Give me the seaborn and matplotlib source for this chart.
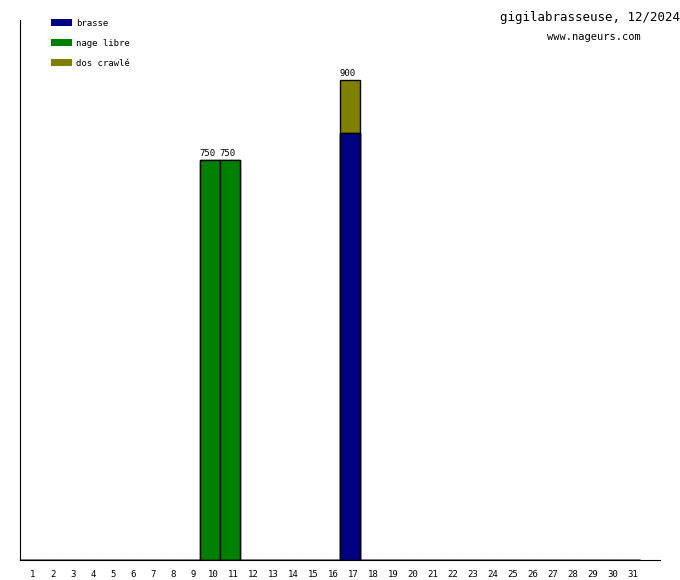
import numpy as np
import pandas as pd
import matplotlib
matplotlib.use("Agg")
import matplotlib.pyplot as plt
import matplotlib.patches as mpatches
import matplotlib.transforms as mtransforms
import seaborn as sns

# data: metres swum per day, by stroke
days = list(range(1, 32))
brasse = [0] * 31
nage_libre = [0] * 31
dos_crawle = [0] * 31
brasse[16] = 800
nage_libre[9] = 750
nage_libre[10] = 750
dos_crawle[16] = 100

strokes = ["brasse", "nage libre", "dos crawlé"]
colors = ["#000080", "#008000", "#808000"]

title = "gigilabrasseuse, 12/2024"
subtitle = "www.nageurs.com"

df = pd.DataFrame({"day": days, "brasse": brasse,
                   "nage libre": nage_libre, "dos crawlé": dos_crawle})
df["total"] = df[strokes].sum(axis=1)

sns.set_style("white")
plt.rcParams["font.family"] = ["DejaVu Sans Mono"]
plt.rcParams["text.color"] = "black"
plt.rcParams["xtick.color"] = "black"

fig = plt.figure(figsize=(6.8, 5.8), dpi=100)
ax = fig.add_axes([20 / 680, 20 / 580, 640 / 680, 540 / 580])

# stacked bars: draw cumulative heights from top layer down
cum = df[strokes].cumsum(axis=1)
for s, c in reversed(list(zip(strokes, colors))):
    sns.barplot(x=df["day"], y=cum[s], color=c, edgecolor="black",
                linewidth=1, width=1, ax=ax, saturation=1)

# totals above bars
for i, t in enumerate(df["total"]):
    if t > 0:
        ax.text(i - 0.12, t + 4, str(t), ha="center", va="bottom", fontsize=6.5)

ax.set_xlim(-0.5, 31.5)
ax.set_ylim(0, 1012.5)
ax.set_xlabel("")
ax.set_ylabel("")
ax.set_yticks([])
ax.set_xticks(range(31))
ax.set_xticklabels([str(d) for d in days], fontsize=6.5)
ax.tick_params(axis="x", length=0, pad=7)
shift = mtransforms.ScaledTranslation(3 / 100, 0, fig.dpi_scale_trans)
for lbl in ax.get_xticklabels():
    lbl.set_transform(lbl.get_transform() + shift)
ax.spines["top"].set_visible(False)
ax.spines["right"].set_visible(False)
ax.spines["left"].set_color("black")
ax.spines["bottom"].set_color("black")

handles = [mpatches.Patch(facecolor=c, edgecolor="none", label=s)
           for s, c in zip(strokes, colors)]
fig.legend(handles=handles, loc="upper left", bbox_to_anchor=(46 / 680, 1 - 14 / 580),
           frameon=False, fontsize=6.5, handlelength=2.4, handleheight=0.8,
           labelspacing=1.25, handletextpad=0.45, borderpad=0)

fig.text(500 / 680, 1 - 18 / 580, title, ha="left", va="center", fontsize=9)
fig.text(594 / 680, 1 - 37 / 580, subtitle, ha="center", va="center", fontsize=7.5)

fig.savefig("out.png", dpi=100)
